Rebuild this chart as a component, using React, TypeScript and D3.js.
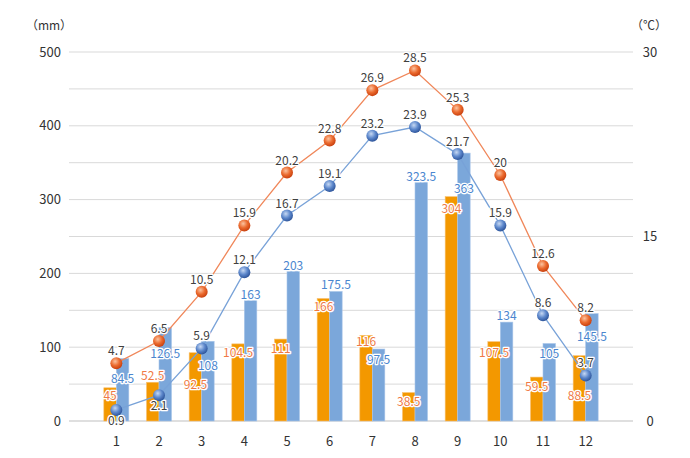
import { useEffect, useRef } from "react";
import * as d3 from "d3";

const width = 690;
const height = 458;
const plot = { left: 69, right: 633, top: 52, bottom: 421 };
const bandRange: [number, number] = [95, 607];

const months = ["1", "2", "3", "4", "5", "6", "7", "8", "9", "10", "11", "12"];
const rainA = [45, 52.5, 92.5, 104.5, 111, 166, 116, 38.5, 304, 107.5, 59.5, 88.5];
const rainB = [84.5, 126.5, 108, 163, 203, 175.5, 97.5, 323.5, 363, 134, 105, 145.5];
const tempA = [4.7, 6.5, 10.5, 15.9, 20.2, 22.8, 26.9, 28.5, 25.3, 20, 12.6, 8.2];
const tempB = [0.9, 2.1, 5.9, 12.1, 16.7, 19.1, 23.2, 23.9, 21.7, 15.9, 8.6, 3.7];
const leftTicks = [0, 100, 200, 300, 400, 500];
const rightTicks = [0, 15, 30];

// 標籤の位置調整（棒の上端からの縦ずれ、px）
const rainALabelDy = [8, -6, 32, 9.5, 10, 8.5, 7, 9, 12, 11, 10, 40];
const rainBLabelDy = [20, 26, 25, -6, -5, -6, 11, -5, 36, -6, 10.5, 23];
const tempBLabelDy = [11, 11, -12, -12, -12, -12, -12, -12, -12, -12, -12, -12];

const font = "'Noto Sans CJK JP', 'Noto Sans', sans-serif";
const orangeBar = "#f39800";
const blueBar = "#7ba7da";
const orangeLine = "#f0875a";
const blueLine = "#78a2d8";

export default function App() {
  const svgRef = useRef<SVGSVGElement | null>(null);

  useEffect(() => {
    document.body.style.margin = "0";
    if (!svgRef.current) return;
    const svg = d3.select(svgRef.current);
    svg.selectAll("*").remove();

    const x = d3.scaleBand<string>().domain(months).range(bandRange).padding(0);
    const yP = d3.scaleLinear().domain([0, 500]).range([plot.bottom, plot.top]);
    const yT = d3.scaleLinear().domain([0, 30]).range([plot.bottom, plot.top]);
    const barW = 12.5;
    const cx = (i: number) => (x(months[i]) ?? 0) + x.bandwidth() / 2;

    // グラデーション（球体マーカー）
    const defs = svg.append("defs");
    const makeGrad = (id: string, light: string, mid: string, dark: string) => {
      const g = defs
        .append("radialGradient")
        .attr("id", id)
        .attr("cx", "40%")
        .attr("cy", "35%")
        .attr("r", "65%");
      g.append("stop").attr("offset", "0%").attr("stop-color", light);
      g.append("stop").attr("offset", "55%").attr("stop-color", mid);
      g.append("stop").attr("offset", "100%").attr("stop-color", dark);
    };
    makeGrad("ballOrange", "#fbc3a0", "#eb6a2e", "#c9410f");
    makeGrad("ballBlue", "#c6d8f3", "#5d88cc", "#2f569c");

    // グリッド線
    svg
      .append("g")
      .selectAll("line")
      .data(d3.range(0, 501, 50))
      .join("line")
      .attr("x1", plot.left)
      .attr("x2", plot.right)
      .attr("y1", (d) => yP(d))
      .attr("y2", (d) => yP(d))
      .attr("stroke", (d) => (d === 0 ? "#bfbfbf" : "#d9d9d9"))
      .attr("stroke-width", 1);

    // 左軸
    svg
      .append("g")
      .selectAll("text")
      .data(leftTicks)
      .join("text")
      .attr("x", 61)
      .attr("y", (d) => yP(d) + 4.5)
      .attr("text-anchor", "end")
      .attr("fill", "#333")
      .style("font-size", "13px")
      .style("font-family", font)
      .text((d) => d);

    // 右軸
    svg
      .append("g")
      .selectAll("text")
      .data(rightTicks)
      .join("text")
      .attr("x", 650)
      .attr("y", (d) => yT(d) + 4.5)
      .attr("text-anchor", "middle")
      .attr("fill", "#333")
      .style("font-size", "13px")
      .style("font-family", font)
      .text((d) => d);

    svg
      .append("text")
      .attr("x", 49)
      .attr("y", 30)
      .attr("text-anchor", "middle")
      .attr("fill", "#333")
      .style("font-size", "12px")
      .style("font-family", font)
      .text("（mm）");

    svg
      .append("text")
      .attr("x", 649)
      .attr("y", 30)
      .attr("text-anchor", "middle")
      .attr("fill", "#333")
      .style("font-size", "12px")
      .style("font-family", font)
      .text("（℃）");

    // x 軸ラベル
    svg
      .append("g")
      .selectAll("text")
      .data(months)
      .join("text")
      .attr("x", (_, i) => cx(i))
      .attr("y", 446)
      .attr("text-anchor", "middle")
      .attr("fill", "#333")
      .style("font-size", "13px")
      .style("font-family", font)
      .text((d) => d);

    // 棒
    const bars = svg.append("g");
    bars
      .selectAll("rect.a")
      .data(rainA)
      .join("rect")
      .attr("class", "a")
      .attr("x", (_, i) => cx(i) - barW)
      .attr("y", (d) => yP(d))
      .attr("width", barW)
      .attr("height", (d) => yP(0) - yP(d))
      .attr("fill", orangeBar)
      .attr("stroke", "#f8c070")
      .attr("stroke-width", 0.6);
    bars
      .selectAll("rect.b")
      .data(rainB)
      .join("rect")
      .attr("class", "b")
      .attr("x", (_, i) => cx(i))
      .attr("y", (d) => yP(d))
      .attr("width", barW)
      .attr("height", (d) => yP(0) - yP(d))
      .attr("fill", blueBar)
      .attr("stroke", "#a9c6ea")
      .attr("stroke-width", 0.6);

    // 折れ線
    const lineA = d3
      .line<number>()
      .x((_, i) => cx(i))
      .y((d) => yT(d));
    svg
      .append("path")
      .attr("d", lineA(tempA))
      .attr("fill", "none")
      .attr("stroke", orangeLine)
      .attr("stroke-width", 1.3);
    svg
      .append("path")
      .attr("d", lineA(tempB))
      .attr("fill", "none")
      .attr("stroke", blueLine)
      .attr("stroke-width", 1.3);

    svg
      .append("g")
      .selectAll("circle")
      .data(tempA)
      .join("circle")
      .attr("cx", (_, i) => cx(i))
      .attr("cy", (d) => yT(d))
      .attr("r", 6)
      .attr("fill", "url(#ballOrange)");
    svg
      .append("g")
      .selectAll("circle")
      .data(tempB)
      .join("circle")
      .attr("cx", (_, i) => cx(i))
      .attr("cy", (d) => yT(d))
      .attr("r", 6)
      .attr("fill", "url(#ballBlue)");

    // データラベル
    const labelGroup = svg.append("g").style("font-family", font).style("font-size", "12px");
    const halo = (sel: d3.Selection<any, any, any, any>) =>
      sel
        .attr("stroke", "#fff")
        .attr("stroke-width", 2.5)
        .attr("stroke-linejoin", "round")
        .attr("paint-order", "stroke")
        .attr("text-anchor", "middle");

    labelGroup
      .selectAll("text.ra")
      .data(rainA)
      .join("text")
      .attr("class", "ra")
      .attr("x", (_, i) => cx(i) - barW / 2)
      .attr("y", (d, i) => yP(d) + rainALabelDy[i] + 4)
      .attr("fill", "#f07a45")
      .call(halo)
      .text((d) => d);

    labelGroup
      .selectAll("text.rb")
      .data(rainB)
      .join("text")
      .attr("class", "rb")
      .attr("x", (_, i) => cx(i) + barW / 2)
      .attr("y", (d, i) => yP(d) + rainBLabelDy[i] + 4)
      .attr("fill", "#4a86cf")
      .call(halo)
      .text((d) => d);

    labelGroup
      .selectAll("text.ta")
      .data(tempA)
      .join("text")
      .attr("class", "ta")
      .attr("x", (_, i) => cx(i))
      .attr("y", (d) => yT(d) - 12 + 4)
      .attr("fill", "#404040")
      .call(halo)
      .text((d) => d);

    labelGroup
      .selectAll("text.tb")
      .data(tempB)
      .join("text")
      .attr("class", "tb")
      .attr("x", (_, i) => cx(i))
      .attr("y", (d, i) => yT(d) + tempBLabelDy[i] + 4)
      .attr("fill", "#404040")
      .call(halo)
      .text((d) => d);
  }, []);

  return <svg ref={svgRef} width={width} height={height} style={{ display: "block", background: "#fff" }} />;
}
